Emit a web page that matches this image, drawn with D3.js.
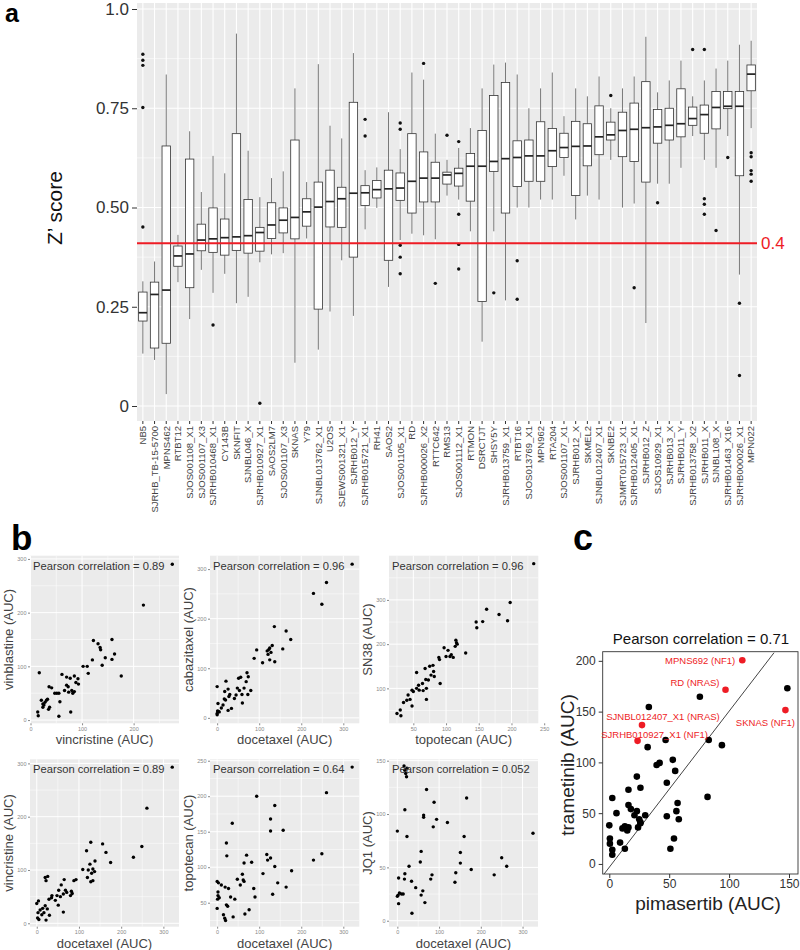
<!DOCTYPE html>
<html><head><meta charset="utf-8">
<script src="https://d3js.org/d3.v7.min.js"></script>
<style>body{margin:0;background:#fff}svg{display:block;font-family:"Liberation Sans",Arial,sans-serif}</style>
</head><body><svg id="c" width="800" height="950"></svg>
<script>
// ---------- Panel a data ----------
const cellLines=["NB5","SJRHB_TB-15-5700","MPNS462","RTBT12","SJOS001108_X1","SJOS001107_X3","SJRHB010468_X1","CY143B","SKNFIT","SJNBL046_X","SJRHB010927_X1","SAOS2LM7","SJOS001107_X3","SKNAS","Y79","SJNBL013762_X1","U2OS","SJEWS001321_X1","SJRHB012_Y","SJRHB015721_X1","RH41","SAOS2","SJOS001105_X1","RD","SJRHB000026_X2","RTTC642","RMS13","SJOS001112_X1","RTMON","DSRCTJT","SHSY5Y","SJRHB013759_X1","RTBT16","SJOS013769_X1","MPN962","RTA204","SJOS001107_X1","SJRHB012_X","SKMEL2","SJNBL012407_X1","SKNBE2","SJMRT015723_X1","SJRHB012405_X1","SJRHB012_Z","SJOS10929_X1","SJRHB013_X","SJRHB011_Y","SJRHB013758_X2","SJRHB011_X","SJNBL108_X","SJRHB01463_X16","SJRHB000026_X1","MPN022"];
const zLow =[.132,.116,.030,.312,.219,.343,.285,.333,.259,.275,.362,.382,.385,.109,.422,.142,.238,.367,.227,.445,.499,.300,.418,.434,.430,.420,.530,.520,.440,.162,.440,.266,.500,.500,.520,.520,.580,.470,.530,.520,.620,.500,.510,.209,.560,.560,.600,.680,.620,.600,.680,.331,.700];
const zQ1  =[.214,.146,.158,.352,.298,.391,.387,.380,.392,.385,.390,.422,.436,.421,.453,.244,.451,.450,.375,.505,.524,.367,.518,.486,.514,.514,.559,.554,.516,.263,.591,.486,.553,.566,.566,.603,.626,.530,.605,.633,.670,.628,.616,.564,.662,.670,.678,.707,.687,.698,.749,.580,.794];
const zMed =[.235,.281,.292,.378,.383,.418,.421,.424,.426,.429,.437,.456,.468,.475,.489,.501,.515,.522,.536,.537,.545,.547,.549,.566,.574,.574,.582,.586,.604,.604,.616,.623,.626,.630,.630,.643,.651,.654,.655,.678,.683,.694,.697,.701,.703,.707,.711,.724,.734,.752,.755,.755,.836];
const zQ3  =[.287,.312,.655,.403,.622,.458,.499,.471,.686,.520,.450,.512,.499,.670,.522,.564,.594,.551,.765,.555,.568,.594,.587,.686,.640,.614,.589,.599,.636,.694,.782,.815,.668,.670,.716,.699,.687,.717,.711,.756,.715,.740,.763,.817,.747,.750,.799,.753,.758,.792,.792,.792,.859];
const zHigh=[.314,.364,.835,.431,.692,.539,.630,.586,.938,.643,.526,.574,.591,.800,.564,.861,.706,.674,.889,.594,.601,.740,.647,.840,.822,.686,.620,.650,.700,.800,.860,.865,.835,.750,.800,.840,.730,.800,.780,.830,.750,.800,.830,.930,.790,.820,.870,.780,.820,.850,.870,.910,.920];
const zOutliers=[[.451,.752,.858,.871,.886],[],[],[],[],[],[.204],[],[],[],[.007],[],[],[],[],[],[],[],[],[.722,.680],[],[],[.713,.697,.405,.375,.333],[],[.863],[.309],[.682],[.666,.483,.407,.345],[],[],[.285],[],[.366,.269],[],[],[],[],[],[],[],[.782],[],[.298],[],[.512],[],[],[.898],[.898,.522,.508,.483],[.442],[.626],[.259,.077],[.638,.628,.593,.584,.566]];
const zTicks=[0,0.25,0.5,0.75,1];
const zThreshold=0.41, zThresholdLabel="0.4";

// ---------- Panel b data ----------
const vincr_vinbl=[[275,290],[219,214],[122,148],[135,135],[131,142],[136,131],[158,150],[163,123],[120,112],[145,116],[158,113],[102,100],[110,100],[112,87],[139,102],[176,82],[17,88],[61,85],[70,80],[77,78],[85,82],[92,77],[88,70],[36,62],[41,60],[47,50],[51,50],[55,50],[73,62],[80,55],[74,52],[82,50],[93,67],[70,65],[57,34],[21,37],[24,30],[28,33],[31,37],[26,28],[24,24],[37,24],[35,20],[14,15],[15,8],[55,7],[78,15],[33,39],[66,55],[85,53]];
const docet_cabaz=[[321,310],[260,273],[229,251],[249,229],[136,184],[164,175],[175,158],[156,139],[119,135],[125,141],[128,132],[121,128],[131,146],[123,138],[94,137],[88,120],[137,113],[125,117],[108,111],[0,63],[2,29],[0,9],[0,6],[3,13],[5,12],[1,14],[18,53],[21,74],[26,58],[20,36],[17,38],[28,43],[30,47],[26,15],[34,19],[41,39],[45,46],[53,55],[59,47],[48,60],[64,60],[51,80],[56,82],[69,73],[74,83],[71,91],[80,55],[60,30],[73,47],[10,20],[14,26]];
const topo_sn38=[[234,382],[198,294],[162,279],[181,267],[194,253],[156,251],[146,250],[147,237],[130,180],[115,209],[117,200],[114,195],[116,203],[97,192],[103,186],[108,176],[111,170],[106,172],[100,172],[89,170],[90,165],[55,136],[68,145],[75,150],[80,152],[81,138],[77,130],[82,127],[91,111],[69,120],[73,119],[58,107],[64,111],[70,100],[65,95],[59,96],[55,100],[48,96],[50,93],[42,85],[45,75],[40,73],[48,60],[35,68],[25,43],[30,51],[31,38],[70,75]];
const docet_vincr=[[321,293],[261,216],[249,144],[229,124],[156,149],[128,152],[118,136],[164,133],[175,114],[138,117],[126,111],[122,100],[137,97],[130,94],[133,102],[109,101],[120,86],[128,78],[133,80],[88,80],[93,82],[68,62],[58,72],[65,82],[80,52],[84,56],[82,60],[63,55],[71,58],[48,52],[52,62],[56,50],[29,45],[36,52],[44,43],[51,34],[63,21],[4,42],[20,86],[22,80],[26,88],[0,37],[3,20],[8,25],[14,28],[17,20],[2,10],[5,7],[12,16],[20,33],[25,27],[30,15],[22,6],[35,48]];
const docet_topo=[[321,241],[260,205],[94,200],[137,187],[36,162],[127,168],[127,151],[157,152],[22,134],[23,116],[70,117],[64,106],[82,107],[118,118],[120,110],[127,113],[137,101],[144,78],[132,62],[164,72],[177,95],[229,110],[249,119],[109,91],[87,70],[90,58],[0,42],[1,55],[2,60],[2,65],[0,80],[3,78],[5,57],[15,33],[18,28],[19,72],[22,47],[25,45],[27,70],[32,58],[42,55],[48,83],[55,75],[60,90],[62,82],[64,80],[38,30],[66,34],[76,40],[10,75],[20,25]];
const docet_jq1=[[325,82],[16,145],[18,141],[20,138],[22,135],[23,143],[70,123],[166,115],[88,111],[18,104],[63,97],[63,99],[94,95],[120,92],[86,88],[0,84],[23,79],[160,79],[57,65],[151,64],[250,59],[55,55],[151,54],[262,51],[28,51],[177,48],[18,44],[140,45],[232,43],[83,43],[3,40],[17,39],[34,37],[80,39],[138,36],[44,31],[61,28],[2,24],[5,26],[10,25],[14,25],[57,24],[66,17],[3,16],[35,7],[0,23]];
const pearsonB=["0.89","0.96","0.96","0.89","0.64","0.052"];

// ---------- Panel c data ----------
const pimaBlack=[148.6,75.6,33,83,94,47,32,39.5,42,53,55,48,23,26,16,82,2.5,16,18,6,23,21,25,26,24,30,13,11,15,16,0,0.5,0.5,2.5,2.5,9,13,51,54,57,56,58,26,48];
const tramBlack=[173,164.7,154.5,122,117,122,115,97.5,99.5,102.5,91.6,80,86,75,73,66,65,58,54,50,52,48,44,40,36,48,37,35,33,36,38,25,20,14,9,21,15,15,25,60,52,44,41,47];
const redNames=["MPNS692 (NF1)","RD (NRAS)","SKNAS (NF1)","SJNBL012407_X1 (NRAS)","SJRHB010927_X1 (NF1)"];
const pimaRed=[111,97,147,27.3,23.6];
const tramRed=[200.6,171.6,151.5,136.7,121.2];
const trendX=[-4.4,137.5], trendY=[-10,208];
const pearsonC="0.71";

// ---------- drawing ----------
const svg=d3.select("#c");
const gridBg="#EBEBEB";

// Panel a
(function(){
  const L=137,R=757,T=3,B=421;
  const x=d3.scaleBand().domain(d3.range(cellLines.length)).range([L,R]);
  const y=d3.scaleLinear().domain([0,1]).range([406,9]);
  const g=svg.append("g");
  g.append("rect").attr("x",L).attr("y",T).attr("width",R-L).attr("height",B-T).attr("fill",gridBg);
  const minor=[0.125,0.375,0.625,0.875];
  g.selectAll(".mn").data(minor).enter().append("line").attr("x1",L).attr("x2",R).attr("y1",d=>y(d)).attr("y2",d=>y(d)).attr("stroke","#fff").attr("stroke-width",0.6);
  g.selectAll(".mj").data(zTicks).enter().append("line").attr("x1",L).attr("x2",R).attr("y1",d=>y(d)).attr("y2",d=>y(d)).attr("stroke","#fff").attr("stroke-width",1.2);
  const cx=i=>x(i)+x.bandwidth()/2;
  g.selectAll(".vg").data(d3.range(cellLines.length)).enter().append("line").attr("x1",cx).attr("x2",cx).attr("y1",T).attr("y2",B).attr("stroke","#fff").attr("stroke-width",1.1);
  const bw=x.bandwidth()*0.72;
  const bx=g.selectAll(".box").data(d3.range(cellLines.length)).enter().append("g");
  bx.append("line").attr("x1",cx).attr("x2",cx).attr("y1",i=>y(zLow[i])).attr("y2",i=>y(zQ1[i])).attr("stroke","#555").attr("stroke-width",0.8);
  bx.append("line").attr("x1",cx).attr("x2",cx).attr("y1",i=>y(zQ3[i])).attr("y2",i=>y(zHigh[i])).attr("stroke","#555").attr("stroke-width",0.8);
  bx.append("rect").attr("x",i=>cx(i)-bw/2).attr("width",bw).attr("y",i=>y(zQ3[i])).attr("height",i=>y(zQ1[i])-y(zQ3[i])).attr("fill","#fff").attr("stroke","#333").attr("stroke-width",0.8);
  bx.append("line").attr("x1",i=>cx(i)-bw/2).attr("x2",i=>cx(i)+bw/2).attr("y1",i=>y(zMed[i])).attr("y2",i=>y(zMed[i])).attr("stroke","#222").attr("stroke-width",1.7);
  bx.each(function(i){
    d3.select(this).selectAll("circle").data(zOutliers[i]).enter().append("circle").attr("cx",cx(i)).attr("cy",d=>y(d)).attr("r",1.7).attr("fill","#111");
  });
  g.append("line").attr("x1",L).attr("x2",R).attr("y1",y(zThreshold)).attr("y2",y(zThreshold)).attr("stroke","#EE1C25").attr("stroke-width",2.2);
  g.append("text").attr("x",R+4).attr("y",y(zThreshold)).attr("dy","0.36em").attr("fill","#EE1C25").attr("font-size",17).text(zThresholdLabel);
  const ya=g.append("g").attr("transform",`translate(${L},0)`).call(d3.axisLeft(y).tickValues(zTicks).tickSize(5).tickPadding(3).tickFormat(d=>d===0?"0":d===1?"1.0":d.toFixed(2)));
  ya.select(".domain").remove();
  ya.selectAll("line").attr("stroke","#333");
  ya.selectAll("text").attr("font-size",17).attr("fill","#333").attr("font-family","Liberation Sans, Arial");
  const xa=g.append("g").attr("transform",`translate(0,${B})`).call(d3.axisBottom(x).tickSize(3).tickFormat(i=>cellLines[i]));
  xa.select(".domain").remove();
  xa.selectAll("line").attr("stroke","#333");
  xa.selectAll("text").attr("transform","rotate(-90)").attr("x",-5).attr("y",0).attr("dy","0.35em").attr("text-anchor","end").attr("font-size",9.5).attr("fill","#444").attr("font-family","Liberation Sans, Arial");
  g.append("text").attr("transform","translate(55,208) rotate(-90)").attr("text-anchor","middle").attr("dy","0.35em").attr("font-size",21).attr("fill","#111").text("Z’ score");
  svg.append("text").attr("x",5).attr("y",22).attr("font-size",25).attr("font-weight","bold").text("a");
})();

// Panel b
function scatter(o){
  const g=svg.append("g");
  const x=d3.scaleLinear().domain(o.xd).range([o.l,o.r]);
  const y=d3.scaleLinear().domain(o.yd).range([o.b,o.t]);
  g.append("rect").attr("x",o.l).attr("y",o.t).attr("width",o.r-o.l).attr("height",o.b-o.t).attr("fill",gridBg);
  const mids=(t,d)=>{const s=t[1]-t[0];const out=[];for(let v=t[0]-s/2;v<=d[1];v+=s){if(v>=d[0])out.push(v);}return out;};
  g.selectAll(".xm").data(mids(o.xt,o.xd)).enter().append("line").attr("x1",d=>x(d)).attr("x2",d=>x(d)).attr("y1",o.t).attr("y2",o.b).attr("stroke","#fff").attr("stroke-width",0.5);
  g.selectAll(".ym").data(mids(o.yt,o.yd)).enter().append("line").attr("y1",d=>y(d)).attr("y2",d=>y(d)).attr("x1",o.l).attr("x2",o.r).attr("stroke","#fff").attr("stroke-width",0.5);
  g.selectAll(".xj").data(o.xt).enter().append("line").attr("x1",d=>x(d)).attr("x2",d=>x(d)).attr("y1",o.t).attr("y2",o.b).attr("stroke","#fff").attr("stroke-width",1);
  g.selectAll(".yj").data(o.yt).enter().append("line").attr("y1",d=>y(d)).attr("y2",d=>y(d)).attr("x1",o.l).attr("x2",o.r).attr("stroke","#fff").attr("stroke-width",1);
  g.selectAll("circle").data(o.data).enter().append("circle").attr("cx",d=>x(d[0])).attr("cy",d=>y(d[1])).attr("r",1.7).attr("fill","#000");
  const xa=g.append("g").attr("transform",`translate(0,${o.b})`).call(d3.axisBottom(x).tickValues(o.xt).tickSize(2).tickPadding(1.5));
  const ya=g.append("g").attr("transform",`translate(${o.l},0)`).call(d3.axisLeft(y).tickValues(o.yt).tickSize(2).tickPadding(1.5));
  [xa,ya].forEach(a=>{a.select(".domain").remove();a.selectAll("line").attr("stroke","#888");a.selectAll("text").attr("font-size",5.5).attr("fill","#888").attr("font-family","Liberation Sans, Arial");});
  g.append("text").attr("x",(o.l+o.r)/2).attr("y",o.b+21).attr("text-anchor","middle").attr("font-size",13).attr("fill","#444").text(o.xl);
  g.append("text").attr("transform",`translate(${o.l-17},${(o.t+o.b)/2}) rotate(-90)`).attr("text-anchor","middle").attr("font-size",13).attr("fill","#444").text(o.yl);
  g.append("text").attr("x",o.l+3).attr("y",o.t+14).attr("font-size",11.2).attr("fill","#333").text("Pearson correlation = "+o.r2);
}
const topT=555.7, topB=723.3, botT=759.3, botB=926.7;
scatter({l:30,r:179,t:topT,b:topB,xd:[-1,288],yd:[-6,306],xt:[0,100,200],yt:[0,100,200,300],data:vincr_vinbl,xl:"vincristine (AUC)",yl:"vinblastine (AUC)",r2:pearsonB[0]});
scatter({l:210,r:359.3,t:topT,b:topB,xd:[-17,338],yd:[-11,327],xt:[0,100,200,300],yt:[0,100,200,300],data:docet_cabaz,xl:"docetaxel (AUC)",yl:"cabazitaxel (AUC)",r2:pearsonB[1]});
scatter({l:389,r:538.3,t:topT,b:topB,xd:[12.8,241],yd:[21,400],xt:[50,100,150,200,250],yt:[100,200,300],data:topo_sn38,xl:"topotecan (AUC)",yl:"SN38 (AUC)",r2:pearsonB[2]});
scatter({l:30,r:179,t:botT,b:botB,xd:[-16,337],yd:[-6.4,307.7],xt:[0,100,200,300],yt:[0,100,200,300],data:docet_vincr,xl:"docetaxel (AUC)",yl:"vincristine (AUC)",r2:pearsonB[3]});
scatter({l:210,r:359.3,t:botT,b:botB,xd:[-17,338],yd:[16.2,252],xt:[0,100,200,300],yt:[50,100,150,200,250],data:docet_topo,xl:"docetaxel (AUC)",yl:"topotecan (AUC)",r2:pearsonB[4]});
scatter({l:389,r:538,t:botT,b:botB,xd:[-20,337],yd:[-5.6,151.3],xt:[0,100,200,300],yt:[0,50,100,150],data:docet_jq1,xl:"docetaxel (AUC)",yl:"JQ1 (AUC)",r2:pearsonB[5]});
svg.append("text").attr("x",11).attr("y",550).attr("font-size",35).attr("font-weight","bold").text("b");

// Panel c
(function(){
  const L=602.7,R=798,T=651.7,B=874;
  const x=d3.scaleLinear().domain([-5.5,157.5]).range([L,R]);
  const y=d3.scaleLinear().domain([-9.9,209]).range([B,T]);
  const g=svg.append("g");
  g.append("rect").attr("x",L).attr("y",T).attr("width",R-L).attr("height",B-T).attr("fill","#fff").attr("stroke","#333").attr("stroke-width",0.9);
  g.append("line").attr("x1",x(trendX[0])).attr("y1",y(trendY[0])).attr("x2",x(trendX[1])).attr("y2",y(trendY[1])).attr("stroke","#444").attr("stroke-width",1);
  g.selectAll(".bk").data(d3.range(pimaBlack.length)).enter().append("circle").attr("cx",i=>x(pimaBlack[i])).attr("cy",i=>y(tramBlack[i])).attr("r",3.3).attr("fill","#000");
  g.selectAll(".rd").data(d3.range(pimaRed.length)).enter().append("circle").attr("cx",i=>x(pimaRed[i])).attr("cy",i=>y(tramRed[i])).attr("r",3.3).attr("fill","#EE1C25");
  const lab=[{dx:-7,dy:4,a:"end"},{dx:-6,dy:-4,a:"end"},{dx:-20,dy:16,a:"middle"},{dx:21,dy:-5,a:"middle"},{dx:17,dy:-3,a:"middle"}];
  g.selectAll(".lb").data(d3.range(redNames.length)).enter().append("text").attr("x",i=>x(pimaRed[i])+lab[i].dx).attr("y",i=>y(tramRed[i])+lab[i].dy).attr("text-anchor",i=>lab[i].a).attr("font-size",9.5).attr("fill","#EE1C25").text(i=>redNames[i]);
  const xa=g.append("g").attr("transform",`translate(0,${B})`).call(d3.axisBottom(x).tickValues([0,50,100,150]).tickSize(4).tickPadding(1));
  const ya=g.append("g").attr("transform",`translate(${L},0)`).call(d3.axisLeft(y).tickValues([0,50,100,150,200]).tickSize(4).tickPadding(3));
  [xa,ya].forEach(a=>{a.select(".domain").remove();a.selectAll("line").attr("stroke","#333");a.selectAll("text").attr("font-size",12).attr("fill","#333").attr("font-family","Liberation Sans, Arial");});
  g.append("text").attr("x",708).attr("y",910).attr("text-anchor","middle").attr("font-size",19).attr("fill","#222").text("pimasertib (AUC)");
  g.append("text").attr("transform","translate(574,765) rotate(-90)").attr("text-anchor","middle").attr("font-size",19).attr("fill","#222").text("trametinib (AUC)");
  g.append("text").attr("x",701).attr("y",644).attr("text-anchor","middle").attr("font-size",15).attr("fill","#111").text("Pearson correlation = "+pearsonC);
  svg.append("text").attr("x",573).attr("y",550).attr("font-size",36).attr("font-weight","bold").text("c");
})();
</script></body></html>
